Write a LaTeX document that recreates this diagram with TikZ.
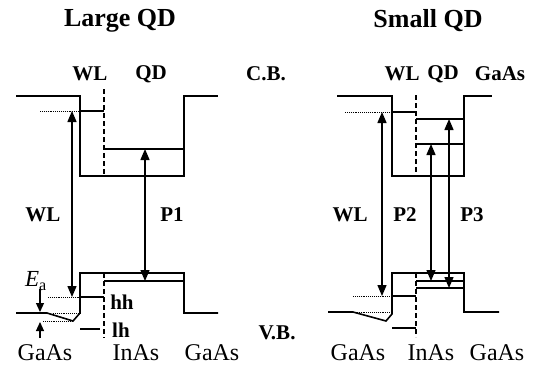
\documentclass[tikz,border=0pt]{standalone}
\usepackage{fontspec}
\setmainfont{Liberation Serif}
\usetikzlibrary{arrows.meta, positioning}

\begin{document}
\begin{tikzpicture}[
    x=1pt, y=-1pt,
    band/.style={line width=1.6pt},
    guide/.style={densely dotted, line width=0.9pt},
    iface/.style={line width=1.2pt, dash pattern=on 5pt off 3pt},
    arrow/.style={<->, >={Triangle[length=11pt, width=9pt]}, line width=1.4pt},
    small arrow/.style={->, >={Triangle[length=9pt, width=8pt]}, line width=1.2pt},
    title/.style={font=\bfseries\fontsize{26}{30}\selectfont},
    lbl/.style={font=\bfseries\fontsize{21}{25}\selectfont},
    mat/.style={font=\fontsize{24}{28}\selectfont}
]
\useasboundingbox (0,0) rectangle (537,373);

% Large QD
\node[title] (tlarge) at (120,21) {Large QD};
\node[lbl] (wltopL) at (90,74) {WL};
\node[lbl] (qdtopL) at (151,74) {QD};
\node[lbl] (cb) at (266,74) {C.B.};
\node[lbl] (vb) at (277,333) {V.B.};

% conduction band
\draw[band] (16,96) -- (80,96) -- (80,176) -- (184,176) -- (184,96) -- (218,96);
\draw[guide] (40,111) -- (80,111);
\draw[band] (80,111) -- (104,111);
\draw[band] (104,149) -- (184,149);
\draw[iface] (104,89) -- (104,176);

% valence band
\draw[band] (16,313) -- (47,313) -- (73,321) -- (80,313) -- (80,273) -- (184,273) -- (184,313) -- (218,313);
\draw[guide] (48,297) -- (80,297);
\draw[guide] (53,313) -- (80,313);
\draw[guide] (43,321) -- (72,321);
\draw[band] (80,297) -- (104,297);
\draw[band] (104,281) -- (184,281);
\draw[band] (80,329) -- (100,329);
\draw[iface] (104,273) -- (104,338);

% transitions
\coordinate (wlcL) at (72,111);
\coordinate (wlvL) at (72,297);
\coordinate (p1c) at (145,149);
\coordinate (p1v) at (145,281);
\draw[arrow] (wlcL) -- (wlvL);
\draw[arrow] (p1c) -- (p1v);
\node[lbl] (wlmidL) at (43,215) {WL};
\node[lbl] (p1) at (172,215) {P1};

% activation energy
\coordinate (eatop) at (40,289);
\coordinate (eahi) at (40,312);
\coordinate (eabot) at (40,338);
\coordinate (ealo) at (40,322);
\draw[small arrow] (eatop) -- (eahi);
\draw[small arrow] (eabot) -- (ealo);
\node[font=\fontsize{23}{27}\selectfont] (ea) at (36,281) {\textit{E}\textsubscript{a}};
\node[lbl] (hh) at (122,302) {hh};
\node[lbl] (lh) at (121,330) {lh};

\node[mat] (gaas1) at (45,353) {GaAs};
\node[mat] (inas1) at (136,353) {InAs};
\node[mat] (gaas2) at (212,353) {GaAs};

% Small QD
\node[title] (tsmall) at (428,21) {Small QD};
\node[lbl] (wltopR) at (402,74) {WL};
\node[lbl] (qdtopR) at (443,74) {QD};
\node[lbl] (gaastop) at (500,74) {GaAs};

% conduction band
\draw[band] (337,96) -- (392,96) -- (392,176) -- (464,176) -- (464,96) -- (492,96);
\draw[guide] (345,112) -- (392,112);
\draw[band] (392,112) -- (416,112);
\draw[band] (416,119) -- (464,119);
\draw[band] (416,144) -- (464,144);
\draw[iface] (416,95) -- (416,176);

% valence band
\draw[band] (328,312) -- (353,312) -- (386,321) -- (392,314) -- (392,273) -- (464,273) -- (464,312) -- (499,312);
\draw[guide] (353,296) -- (392,296);
\draw[guide] (353,312) -- (392,312);
\draw[band] (392,296) -- (416,296);
\draw[band] (416,281) -- (464,281);
\draw[band] (416,288) -- (464,288);
\draw[band] (392,328) -- (416,328);
\draw[iface] (416,273) -- (416,337);

% transitions
\coordinate (wlcR) at (382,112);
\coordinate (wlvR) at (382,296);
\coordinate (p2c) at (431,144);
\coordinate (p2v) at (431,281);
\coordinate (p3c) at (449,119);
\coordinate (p3v) at (449,288);
\draw[arrow] (wlcR) -- (wlvR);
\draw[arrow] (p2c) -- (p2v);
\draw[arrow] (p3c) -- (p3v);
\node[lbl] (wlmidR) at (350,215) {WL};
\node[lbl] (p2) at (405,215) {P2};
\node[lbl] (p3) at (472,215) {P3};

\node[mat] (gaas3) at (358,353) {GaAs};
\node[mat] (inas2) at (431,353) {InAs};
\node[mat] (gaas4) at (497,353) {GaAs};

\end{tikzpicture}
\end{document}
